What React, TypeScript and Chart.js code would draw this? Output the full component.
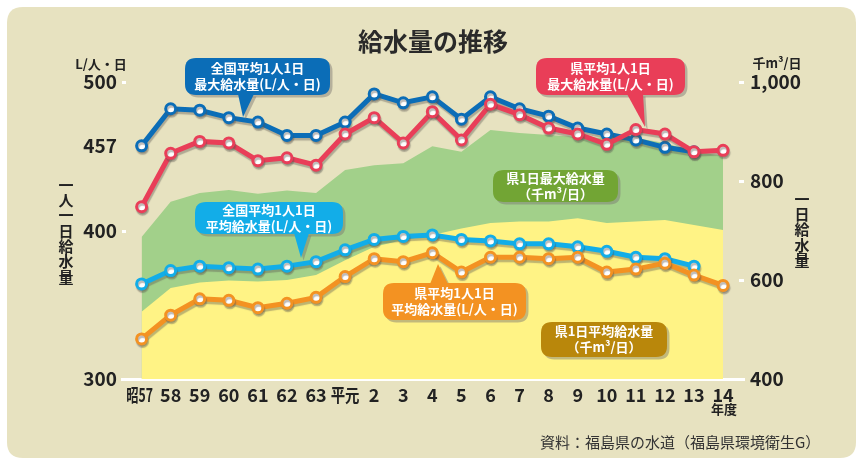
import React, { useEffect, useRef } from 'react';
import { Chart, registerables } from 'chart.js';

Chart.register(...registerables);

// ---- data ----
const years = ['昭57', '58', '59', '60', '61', '62', '63', '平元', '2', '3', '4', '5', '6', '7', '8', '9', '10', '11', '12', '13', '14'];
// 全国平均1人1日最大給水量 (L/人・日)
const natMax = [457, 482, 481, 476, 473, 464, 464, 473, 492, 486, 490, 475, 490, 482, 477, 469, 465, 461, 456, 453];
// 県平均1人1日最大給水量 (L/人・日)
const prefMax = [416, 452, 460, 459, 447, 449, 444, 465, 476, 459, 480, 461, 485, 478, 469, 465, 458, 468, 465, 453, 454];
// 全国平均1人1日平均給水量 (L/人・日)
const natAvg = [364, 373, 376, 375, 374, 376, 379, 387, 394, 396, 397, 394, 393, 391, 391, 389, 386, 382, 381, 376];
// 県平均1人1日平均給水量 (L/人・日)
const prefAvg = [327, 343, 354, 353, 348, 351, 355, 369, 381, 379, 385, 372, 382, 382, 381, 382, 372, 374, 378, 370, 363];
// 県1日最大給水量 (千m³/日)
const prefMaxVol = [687, 758, 776, 782, 774, 781, 776, 822, 832, 836, 870, 859, 903, 897, 893, 889, 887, 887, 877, 859, 851];
// 県1日平均給水量 (千m³/日)
const prefAvgVol = [536, 584, 595, 599, 597, 600, 610, 640, 667, 681, 691, 704, 715, 718, 718, 725, 715, 718, 721, 711, 701];

const leftTicks = [300, 400, 457, 500];
const rightTicks = [400, 600, 800, 1000];
const rightTickLabels = ['400', '600', '800', '1,000'];

// labels drawn horizontally condensed (index -> x scale factor)
const condensed: Record<number, number> = { 0: 0.68, 7: 0.8 };

const FONT = "'Noto Sans CJK JP', 'Noto Sans', sans-serif";

const C_BG = '#e7e2c0';
const C_GREEN = '#a2d08a';
const C_YELLOW = '#fff385';
const C_NATMAX = '#0b6db7';
const C_PREFMAX = '#e93e58';
const C_NATAVG = '#12ade8';
const C_PREFAVG = '#f39222';
const C_GREENBOX = '#72a534';
const C_BROWNBOX = '#b9870b';

type Callout = {
  x: number; y: number; w: number; h: number; color: string;
  lines: string[];
  pointer?: number[][];
};

const callouts: Callout[] = [
  { x: 185, y: 58, w: 145, h: 37, color: C_NATMAX, lines: ['全国平均1人1日', '最大給水量(L/人・日)'], pointer: [[238, 94], [243, 117], [254, 94]] },
  { x: 536, y: 58, w: 149, h: 37, color: C_PREFMAX, lines: ['県平均1人1日', '最大給水量(L/人・日)'], pointer: [[627, 94], [645, 127], [643, 94]] },
  { x: 195, y: 202, w: 148, h: 32, color: C_NATAVG, lines: ['全国平均1人1日', '平均給水量(L/人・日)'], pointer: [[294, 233], [301, 258], [309, 233]] },
  { x: 383, y: 283, w: 143, h: 37, color: C_PREFAVG, lines: ['県平均1人1日', '平均給水量(L/人・日)'], pointer: [[430, 284], [438, 264], [448, 284]] },
  { x: 493, y: 170, w: 125, h: 32, color: C_GREENBOX, lines: ['県1日最大給水量', '（千m³/日）'] },
  { x: 541, y: 322, w: 126, h: 35, color: C_BROWNBOX, lines: ['県1日平均給水量', '（千m³/日）'] },
];

function rr(ctx: CanvasRenderingContext2D, x: number, y: number, w: number, h: number, r: number) {
  ctx.beginPath();
  ctx.moveTo(x + r, y);
  ctx.lineTo(x + w - r, y);
  ctx.quadraticCurveTo(x + w, y, x + w, y + r);
  ctx.lineTo(x + w, y + h - r);
  ctx.quadraticCurveTo(x + w, y + h, x + w - r, y + h);
  ctx.lineTo(x + r, y + h);
  ctx.quadraticCurveTo(x, y + h, x, y + h - r);
  ctx.lineTo(x, y + r);
  ctx.quadraticCurveTo(x, y, x + r, y);
  ctx.closePath();
}

function drawCallout(ctx: CanvasRenderingContext2D, c: Callout) {
  const shape = (dx: number, dy: number, fill: string) => {
    ctx.fillStyle = fill;
    rr(ctx, c.x + dx, c.y + dy, c.w, c.h, 11);
    ctx.fill();
    if (c.pointer) {
      ctx.beginPath();
      ctx.moveTo(c.pointer[0][0] + dx, c.pointer[0][1] + dy);
      ctx.lineTo(c.pointer[1][0] + dx, c.pointer[1][1] + dy);
      ctx.lineTo(c.pointer[2][0] + dx, c.pointer[2][1] + dy);
      ctx.closePath();
      ctx.fill();
    }
  };
  shape(2.5, 2.5, 'rgba(120,115,110,0.45)');
  shape(0, 0, c.color);
  ctx.fillStyle = '#ffffff';
  ctx.font = `bold 13px ${FONT}`;
  ctx.textAlign = 'center';
  ctx.textBaseline = 'middle';
  const cx = c.x + c.w / 2;
  const cy = c.y + c.h / 2;
  ctx.fillText(c.lines[0], cx, cy - 8);
  ctx.fillText(c.lines[1], cx, cy + 8);
}

function vtext(ctx: CanvasRenderingContext2D, s: string, x: number, yTop: number, step: number) {
  const chars = Array.from(s);
  chars.forEach((ch, i) => ctx.fillText(ch, x, yTop + i * step));
}

const decorPlugin = {
  id: 'decor',
  beforeDraw(chart: any) {
    const ctx = chart.ctx as CanvasRenderingContext2D;
    ctx.save();
    ctx.fillStyle = '#ffffff';
    ctx.fillRect(0, 0, chart.width, chart.height);
    ctx.fillStyle = C_BG;
    rr(ctx, 7, 7, 849, 451, 16);
    ctx.fill();
    ctx.restore();
  },
  beforeDatasetDraw(chart: any, args: any) {
    const ds = chart.data.datasets[args.index];
    if (ds._shadow) {
      const ctx = chart.ctx as CanvasRenderingContext2D;
      ctx.save();
      ctx.shadowColor = 'rgba(90,85,80,0.4)';
      ctx.shadowOffsetX = 1;
      ctx.shadowOffsetY = 2.5;
      ctx.shadowBlur = 1;
    }
  },
  afterDatasetDraw(chart: any, args: any) {
    const ds = chart.data.datasets[args.index];
    if (ds._shadow) chart.ctx.restore();
  },
  afterDraw(chart: any) {
    const ctx = chart.ctx as CanvasRenderingContext2D;
    const xS = chart.scales.x;
    const yL = chart.scales.y;
    const yR = chart.scales.y2;
    const area = chart.chartArea;
    ctx.save();
    // tick dashes
    ctx.strokeStyle = '#ffffff';
    ctx.lineWidth = 3;
    [500, 400].forEach((v) => {
      const py = Math.round(yL.getPixelForValue(v)) + 0.5;
      ctx.beginPath();
      ctx.moveTo(area.left, py);
      ctx.lineTo(area.left + 4, py);
      ctx.stroke();
    });
    [1000, 800, 600].forEach((v) => {
      const py = Math.round(yR.getPixelForValue(v)) + 0.5;
      ctx.beginPath();
      ctx.moveTo(area.right - 5, py);
      ctx.lineTo(area.right, py);
      ctx.stroke();
    });

    // condensed category labels (昭57, 平元)
    Object.keys(condensed).forEach((k) => {
      const i = Number(k);
      ctx.save();
      ctx.fillStyle = '#222';
      ctx.font = `bold 18px ${FONT}`;
      ctx.textAlign = 'center';
      ctx.textBaseline = 'middle';
      const px = xS.getPixelForValue(i) + (i === 0 ? -2 : 0);
      ctx.translate(px, 395);
      ctx.scale(condensed[i], 1);
      ctx.fillText(years[i], 0, 0);
      ctx.restore();
    });

    // callouts
    callouts.forEach((c) => drawCallout(ctx, c));

    // title
    ctx.fillStyle = '#2a2a2a';
    ctx.textAlign = 'center';
    ctx.textBaseline = 'middle';
    ctx.font = `bold 25px ${FONT}`;
    ctx.fillText('給水量の推移', 433, 41);

    // unit labels
    ctx.fillStyle = '#222';
    ctx.font = `bold 13px ${FONT}`;
    ctx.fillText('L/人・日', 101, 64);
    ctx.fillText('千m³/日', 777, 63);

    // vertical axis titles
    ctx.font = `bold 15px ${FONT}`;
    vtext(ctx, '一人一日給水量', 66, 185, 15.3);
    vtext(ctx, '一日給水量', 802, 199, 15.3);

    // 年度
    ctx.font = `bold 13px ${FONT}`;
    ctx.fillText('年度', 724, 409);

    // source
    ctx.font = `15px ${FONT}`;
    ctx.fillStyle = '#333';
    ctx.textAlign = 'left';
    ctx.fillText('資料：福島県の水道（福島県環境衛生G）', 540, 442);
    ctx.restore();
  },
};

const pts = (arr: number[]) => arr.map((v, i) => ({ x: i, y: v }));

const lineDs = (label: string, arr: number[], color: string, order: number) => ({
  label,
  data: pts(arr),
  yAxisID: 'y',
  borderColor: color,
  borderWidth: 5,
  backgroundColor: color,
  pointRadius: 5,
  pointBorderWidth: 3,
  pointBackgroundColor: '#ffffff',
  pointBorderColor: color,
  fill: false,
  tension: 0,
  order,
  _shadow: true,
});

export default function App() {
  const ref = useRef<HTMLCanvasElement | null>(null);

  useEffect(() => {
    if (!ref.current) return;
    const chart = new Chart(ref.current, {
      type: 'line',
      data: {
        datasets: [
          {
            label: '県1日最大給水量',
            data: pts(prefMaxVol),
            yAxisID: 'y2',
            borderWidth: 0,
            pointRadius: 0,
            backgroundColor: C_GREEN,
            borderColor: C_GREEN,
            fill: 'start',
            tension: 0,
            order: 20,
          },
          {
            label: '県1日平均給水量',
            data: pts(prefAvgVol),
            yAxisID: 'y2',
            borderWidth: 0,
            pointRadius: 0,
            backgroundColor: C_YELLOW,
            borderColor: C_YELLOW,
            fill: 'start',
            tension: 0,
            order: 19,
          },
          lineDs('全国平均1人1日平均給水量', natAvg, C_NATAVG, 4),
          lineDs('県平均1人1日平均給水量', prefAvg, C_PREFAVG, 3),
          lineDs('全国平均1人1日最大給水量', natMax, C_NATMAX, 2),
          lineDs('県平均1人1日最大給水量', prefMax, C_PREFMAX, 1),
        ] as any,
      },
      options: {
        animation: false,
        responsive: false,
        devicePixelRatio: 1,
        layout: { padding: { top: 82, left: 0, right: 0, bottom: 0 } },
        plugins: {
          legend: { display: false },
          tooltip: { enabled: false },
          title: { display: false },
        },
        scales: {
          x: {
            type: 'linear',
            min: -0.674,
            max: 20.72,
            bounds: 'data',
            afterBuildTicks: (s: any) => {
              s.ticks = years.map((_, i) => ({ value: i }));
            },
            afterFit: (s: any) => {
              s.height = 82;
            },
            grid: { display: false, drawTicks: false },
            border: { display: true, color: '#ffffff', width: 3 },
            ticks: {
              autoSkip: false,
              maxRotation: 0,
              minRotation: 0,
              padding: 5,
              color: '#222',
              font: { family: FONT, size: 18, weight: 'bold' },
              callback: (v: any) => {
                const i = Math.round(Number(v));
                return condensed[i] !== undefined ? '' : years[i] ?? '';
              },
            },
          },
          y: {
            type: 'linear',
            position: 'left',
            min: 300,
            max: 500,
            afterBuildTicks: (s: any) => {
              s.ticks = leftTicks.map((v) => ({ value: v }));
            },
            afterFit: (s: any) => {
              s.width = 122;
            },
            grid: { display: false, drawTicks: false },
            border: { display: false },
            ticks: {
              padding: 5,
              color: '#222',
              font: { family: FONT, size: 19, weight: 'bold' },
              callback: (v: any) => String(v),
            },
          },
          y2: {
            type: 'linear',
            position: 'right',
            min: 400,
            max: 1000,
            afterBuildTicks: (s: any) => {
              s.ticks = rightTicks.map((v) => ({ value: v }));
            },
            afterFit: (s: any) => {
              s.width = 115;
            },
            grid: { display: false, drawTicks: false },
            border: { display: false },
            ticks: {
              padding: 6,
              color: '#222',
              font: { family: FONT, size: 19, weight: 'bold' },
              callback: (v: any) => rightTickLabels[rightTicks.indexOf(Number(v))] ?? String(v),
            },
          },
        },
      } as any,
      plugins: [decorPlugin],
    });
    return () => chart.destroy();
  }, []);

  return (
    <div style={{ position: 'absolute', left: 0, top: 0, width: 859, height: 461 }}>
      <canvas ref={ref} width={859} height={461} style={{ display: 'block', width: 859, height: 461 }} />
    </div>
  );
}
